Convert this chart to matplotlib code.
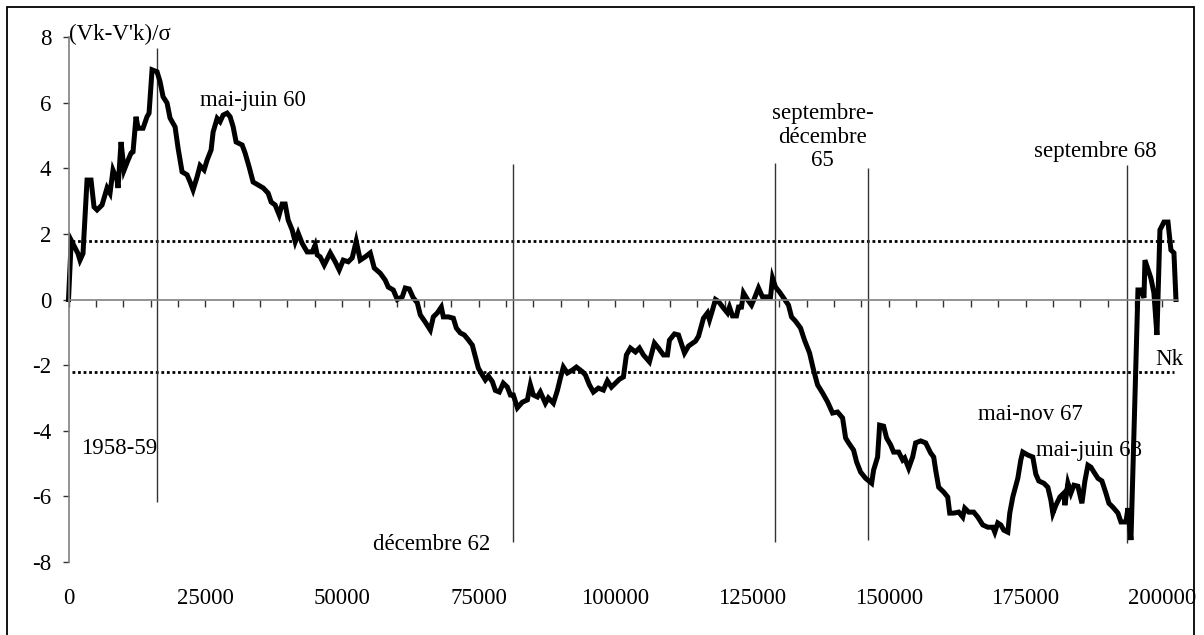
import matplotlib
matplotlib.use("Agg")
import matplotlib.pyplot as plt
from matplotlib.patches import Rectangle
from matplotlib.ticker import MultipleLocator, FuncFormatter

plt.rcParams['font.family'] = ['Liberation Serif', 'DejaVu Serif']
FONT_SIZE = 16.5

# cumulative count Nk
nk = [0, 500, 1740, 2100, 2650, 3390, 4120, 4670, 5220, 6130, 7050, 7590, 8140, 8880, 9060,
      9610, 10160, 10890, 11440, 11800, 12350, 12720, 13630, 14360, 14730, 15280, 16190, 16740,
      17290, 18020, 18570, 19490, 20040, 20770, 21680, 22240, 22780, 23520, 24060, 24800, 25350,
      26080, 26440, 27180, 27720, 28270, 29000, 29550, 30100, 30650, 31750, 32300, 33030, 33760,
      34680, 35600, 36510, 37060, 37790, 38520, 39070, 39620, 40170, 40900, 41450, 42000,
      42730, 43640, 44560, 45110, 45480, 46020, 46760, 47860, 48770, 49500, 50240, 51150, 51880,
      52610, 53350, 54260, 55180, 55910, 57010, 57920, 58470, 59390, 60120, 61030, 61580, 62310,
      63050, 63780, 64330, 65240, 66160, 66710, 67440, 68170, 68540, 69450, 70370, 70920, 71650,
      72380, 73110, 73840, 74390, 74940, 75670, 76220, 76770, 77500, 78050, 78780, 79510, 80250,
      80800, 81340, 82080, 82990, 83910, 84460, 85000, 85740, 86280, 87200, 87750, 88660, 89400,
      89940, 90490, 91220, 92140, 92870, 93970,
      94520, 95250, 95980, 96900, 97810, 98540, 99280, 100010, 100740, 101470, 102020, 102750,
      103670, 104400, 105130, 106230, 107140, 107880, 108790, 109520, 109890, 110800, 111540,
      112640, 113370, 114650, 115200, 116110, 116840, 117210, 117760, 118310, 118850, 119770,
      120500, 120870, 121420, 122150, 122520, 123060, 123430, 124160, 124890, 125440, 126170,
      126900, 127820, 128370, 128740, 129280, 130010, 130930, 131660, 132210, 132940, 133860,
      134590, 135510, 136240, 136970, 137890, 138800, 139720, 140630, 141550, 142100, 142650,
      143560, 144110, 144840, 145760, 146860, 147220, 147950, 148320, 149050, 149600, 150330,
      150880, 151800, 152530, 152900, 153630, 154360, 154910, 155830, 156740, 157660, 158210,
      158570, 159120, 160040, 160770, 161140, 161870, 162790, 163520, 163890, 164620, 165530,
      166270, 167180, 168100, 169010, 169380, 169930, 170480, 171030, 171760, 172120, 172670,
      173590, 174140, 174500, 175420, 176330, 176880, 177430, 178350, 179080, 179630, 180000,
      180550, 181280, 182010, 182200, 182750, 183300, 183850, 184580, 185310, 185860, 186410,
      186960, 187510, 188240, 188970, 189700, 190250, 190980, 191900, 192450, 193360, 193730,
      194280, 195560, 196110, 196660, 196840, 197930, 198480, 199030, 199580, 200310, 201050,
      201590, 202140, 202510]

# (Vk - V'k) / sigma
z = [0, 1.8, 1.4, 1.2, 1.4, 3.64, 3.64, 2.82, 2.73, 2.88, 3.4, 3.24, 3.94, 3.64, 3.4,
     4.8, 3.94, 4.25, 4.46, 4.5, 5.57, 5.22, 5.22, 5.57, 5.68, 7.0, 6.94, 6.64,
     6.18, 5.99, 5.53, 5.26, 4.61, 3.89, 3.8, 3.58, 3.34, 3.74, 4.08, 3.95, 4.25,
     4.56, 5.1, 5.52, 5.42, 5.62, 5.68, 5.57, 5.27, 4.8, 4.71, 4.46, 4.04, 3.58,
     3.49, 3.4, 3.24, 2.97, 2.88, 2.58, 2.91, 2.91, 2.42, 2.12, 1.76, 2.02,
     1.71, 1.45, 1.45, 1.66, 1.36, 1.3, 1.05, 1.42, 1.15, 0.9, 1.2, 1.15, 1.27,
     1.78, 1.2, 1.3, 1.42, 0.96, 0.8, 0.59, 0.38, 0.29, 0.0, 0.08, 0.35, 0.32,
     0.05, -0.1, -0.47, -0.69, -0.93, -0.53, -0.41, -0.23, -0.53, -0.53, -0.57, -0.87, -1.02,
     -1.08, -1.23, -1.39, -1.74, -2.09, -2.3, -2.45, -2.33, -2.5, -2.77, -2.82, -2.55, -2.67,
     -2.91, -2.91, -3.3, -3.13, -3.06, -2.6, -2.91, -2.97, -2.82, -3.16, -3.0, -3.16, -2.77,
     -2.4, -2.06, -2.24, -2.15, -2.06, -2.2,
     -2.3, -2.6, -2.82, -2.7, -2.76, -2.48, -2.67, -2.55, -2.43, -2.36, -1.69, -1.48,
     -1.6, -1.48, -1.69, -1.9, -1.33, -1.48, -1.69, -1.69, -1.24, -1.05, -1.08,
     -1.63, -1.42, -1.27, -1.12, -0.57, -0.41, -0.62, -0.32, 0.0, -0.06, -0.26,
     -0.41, -0.23, -0.5, -0.5, -0.23, -0.23, 0.2, 0.0, -0.17, 0.04, 0.35,
     0.08, 0.08, 0.08, 0.65, 0.38, 0.23, 0.01, -0.17, -0.53, -0.66, -0.87,
     -1.24, -1.63, -2.15, -2.6, -2.85, -3.12, -3.46, -3.43, -3.61, -4.22, -4.37,
     -4.59, -4.95, -5.26, -5.45, -5.6, -5.2, -4.8, -3.83, -3.86, -4.22, -4.43,
     -4.65, -4.65, -4.89, -4.83, -5.14, -4.8, -4.37, -4.31, -4.37, -4.68, -4.8,
     -5.2, -5.72, -5.87, -6.02, -6.51, -6.51, -6.48, -6.63, -6.36, -6.48, -6.48,
     -6.63, -6.87, -6.94, -6.94, -7.09, -6.81, -6.87, -7.03, -7.09, -6.51, -6.02,
     -5.45, -4.89, -4.65, -4.74, -4.8, -5.32, -5.53, -5.6, -5.72, -6.11, -6.51,
     -6.27, -6.02, -5.9, -6.27, -5.6, -5.9, -5.66, -5.69, -6.21, -5.53, -5.05,
     -5.11, -5.26, -5.45, -5.53, -5.9, -6.21, -6.33, -6.51, -6.78, -6.78, -6.36,
     -7.33, 0.29, 0.29, 0.05, 1.2, 0.65, 0.2, -1.08, 2.12, 2.36, 2.36,
     1.51, 1.42, 0.0]

# confidence bounds
upper_bound = 1.79
lower_bound = -2.2
bound_range = (640, 202100)

# event markers: position, top, bottom
event_nk = [16190, 81280, 129280, 146110, 193640]
event_top = [7.65, 4.13, 4.16, 4.0, 4.1]
event_bottom = [-6.17, -7.4, -7.4, -7.33, -7.41]

# text labels: text, x, y, alignment
labels = [
    ("(Vk-V'k)/σ", 0, 8.09, 'left'),
    ("mai-juin 60", 24100, 6.05, 'left'),
    ("1958-59", 16190, -4.53, 'right'),
    ("décembre 62", 77130, -7.48, 'right'),
    ("septembre-\ndécembre\n65", 137900, 4.95, 'center'),
    ("septembre 68", 187830, 4.5, 'center'),
    ("mai-nov 67", 166240, -3.52, 'left'),
    ("mai-juin 68", 176860, -4.59, 'left'),
    ("Nk", 198820, -1.84, 'left'),
]

W, H = 1204, 635
fig = plt.figure(figsize=(W / 100, H / 100), dpi=100)
ax = fig.add_axes([68.5 / W, (H - 562) / H, (1177 - 68.5) / W, (562 - 37) / H])

ax.set_xlim(0, 202700)
ax.set_ylim(-8, 8)

axis_grey = '#808080'
for side in ['right', 'bottom']:
    ax.spines[side].set_visible(False)
# the x axis crosses at zero, its labels stay at the bottom
ax.spines['top'].set_position(('data', 0))
for side in ['top', 'left']:
    ax.spines[side].set_color(axis_grey)
    ax.spines[side].set_linewidth(1.2)

ax.xaxis.set_major_locator(MultipleLocator(25000))
ax.xaxis.set_minor_locator(MultipleLocator(5000))
ax.yaxis.set_major_locator(MultipleLocator(2))
ax.tick_params(axis='x', which='both', top=True, bottom=False, labelbottom=True, labeltop=False,
               direction='in', length=5, width=1, color='#333333', pad=19, labelsize=FONT_SIZE)
ax.tick_params(axis='y', which='major', left=True, direction='out', length=4.5, width=1,
               color='#333333', pad=8, labelsize=FONT_SIZE)
ax.xaxis.set_major_formatter(FuncFormatter(lambda v, p: f'{int(v)}'))
ax.yaxis.set_major_formatter(FuncFormatter(lambda v, p: f'{int(v)}'))

ax.hlines([upper_bound, lower_bound], bound_range[0], bound_range[1], colors='black',
          linestyles=(0, (1, 1)), linewidth=2)
ax.vlines(event_nk, event_bottom, event_top, colors='#333333', linewidth=1)

ax.plot(nk, z, color='black', linewidth=3.6, solid_joinstyle='miter', clip_on=False)

for text, x, y, ha in labels:
    ax.text(x, y, text, ha=ha, va='center', fontsize=FONT_SIZE, linespacing=1.15, clip_on=False)

# outer frame, its bottom edge falls below the picture
fig.patches.append(Rectangle((7 / W, -10 / H), 1187 / W, 638 / H, transform=fig.transFigure,
                             fill=False, edgecolor='black', linewidth=1.3))

fig.savefig('out.png', dpi=100)
